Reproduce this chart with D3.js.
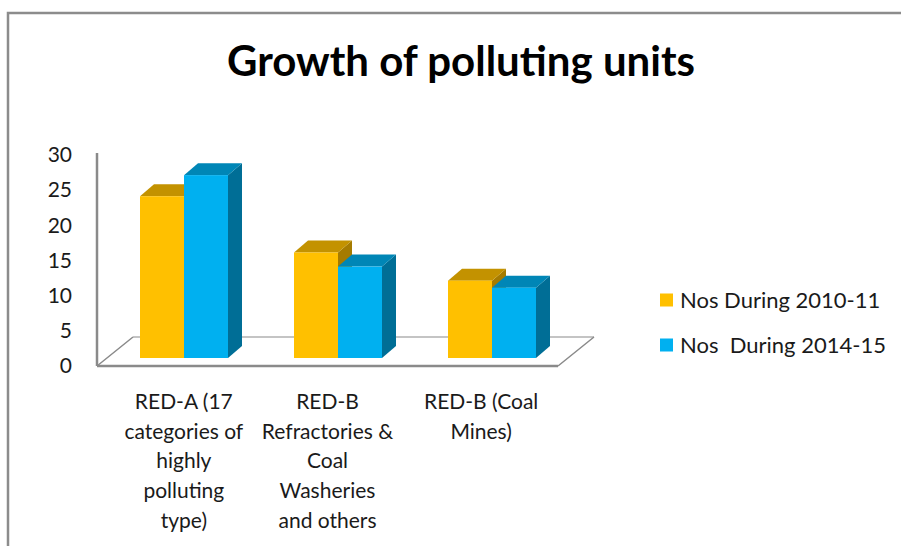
<!DOCTYPE html>
<html>
<head>
<meta charset="utf-8">
<script src="https://cdn.jsdelivr.net/npm/d3@7"></script>
<style>
  body { margin: 0; background: #fff; }
  svg { display: block; font-family: Lato, "Open Sans", sans-serif; }
</style>
</head>
<body>
<div id="chart"></div>
<script>
// Data
const categories = ["RED-A", "RED-B Refractories", "RED-B Coal Mines"];
const categoryLines = [
  ["RED-A (17", "categories of", "highly", "polluting", "type)"],
  ["RED-B", "Refractories &", "Coal", "Washeries", "and others"],
  ["RED-B (Coal", "Mines)"]
];
const seriesNames = ["Nos During 2010-11", "Nos  During 2014-15"];
const values2010 = [23, 15, 11];
const values2014 = [26, 13, 10];
const yTicks = [0, 5, 10, 15, 20, 25, 30];

const colors = [
  { front: "#FFC000", top: "#C39200", side: "#A57B00" },
  { front: "#00B0F0", top: "#0086B6", side: "#006E96" }
];

const width = 901, height = 546;
const svg = d3.select("#chart").append("svg")
  .attr("width", width).attr("height", height);

// outer frame
svg.append("path")
  .attr("d", `M8,${height} L8,13 L${width},13`)
  .attr("fill", "none").attr("stroke", "#8c8c8c").attr("stroke-width", 2.5);

// Title
svg.append("text")
  .attr("x", 461).attr("y", 76)
  .attr("text-anchor", "middle")
  .attr("font-size", 42).attr("font-weight", "bold")
  .attr("fill", "#000")
  .text("Growth of polluting units");

// Scales
const floorX = d3.scaleBand().domain(categories).range([97, 558]);
const barX = d3.scaleBand().domain(categories).range([107, 569]);
const inner = d3.scaleBand().domain([0, 1]).range([-44, 44]);
const yAxisScale = d3.scaleLinear().domain([0, 30]).range([366, 155]);
const yBar = d3.scaleLinear().domain([0, 30]).range([358, 147]);
const depth = { dx: 36, dy: -29 };
const barDepth = { dx: 14, dy: -12 };

// floor
const fx0 = floorX.range()[0], fx1 = floorX.range()[1], fy = yAxisScale(0);
svg.append("path")
  .attr("d", `M${fx0},${fy} L${fx0 + depth.dx},${fy + depth.dy} L${fx1 + depth.dx},${fy + depth.dy} L${fx1},${fy} Z`)
  .attr("fill", "#fff").attr("stroke", "none");
svg.append("line")
  .attr("x1", fx0 + depth.dx).attr("x2", fx1 + depth.dx)
  .attr("y1", fy + depth.dy).attr("y2", fy + depth.dy)
  .attr("stroke", "#c4c4c4").attr("stroke-width", 2);
svg.append("path")
  .attr("d", `M${fx0},${fy} L${fx0 + depth.dx},${fy + depth.dy} M${fx1},${fy} L${fx1 + depth.dx},${fy + depth.dy}`)
  .attr("fill", "none").attr("stroke", "#8a8a8a").attr("stroke-width", 1.5);
svg.append("line")
  .attr("x1", fx0).attr("x2", fx1).attr("y1", fy).attr("y2", fy)
  .attr("stroke", "#8a8a8a").attr("stroke-width", 2.5);

// vertical axis line
svg.append("line")
  .attr("x1", fx0).attr("x2", fx0)
  .attr("y1", yAxisScale(30) - 2).attr("y2", fy)
  .attr("stroke", "#8a8a8a").attr("stroke-width", 2.5);

// Y axis labels
const yAxis = svg.append("g")
  .attr("transform", "translate(72,0)")
  .call(d3.axisLeft(yAxisScale).tickValues(yTicks).tickSize(0).tickPadding(0));
yAxis.select(".domain").remove();
yAxis.selectAll("text")
  .attr("font-family", "Lato, 'Open Sans', sans-serif")
  .attr("font-size", 21).attr("fill", "#1a1a1a");

// Bars
const series = [values2010, values2014];
categories.forEach((c, i) => {
  series.forEach((vals, s) => {
    const x0 = barX(c) + barX.bandwidth() / 2 + inner(s);
    const w = inner.bandwidth();
    const yT = yBar(vals[i]), yB = yBar(0);
    const g = svg.append("g");
    // side
    g.append("path")
      .attr("d", `M${x0 + w},${yT} L${x0 + w + barDepth.dx},${yT + barDepth.dy} L${x0 + w + barDepth.dx},${yB + barDepth.dy} L${x0 + w},${yB} Z`)
      .attr("fill", colors[s].side);
    // top
    g.append("path")
      .attr("d", `M${x0},${yT} L${x0 + barDepth.dx},${yT + barDepth.dy} L${x0 + w + barDepth.dx},${yT + barDepth.dy} L${x0 + w},${yT} Z`)
      .attr("fill", colors[s].top);
    // front
    g.append("rect")
      .attr("x", x0).attr("y", yT)
      .attr("width", w).attr("height", yB - yT)
      .attr("fill", colors[s].front);
  });
});

// Category labels
categories.forEach((c, i) => {
  const t = svg.append("text")
    .attr("text-anchor", "middle")
    .attr("font-size", 21).attr("fill", "#1a1a1a");
  categoryLines[i].forEach((line, k) => {
    t.append("tspan")
      .attr("x", floorX(c) + floorX.bandwidth() / 2 + (i === 0 ? 10 : 0))
      .attr("y", 409 + k * 29.7)
      .text(line);
  });
});

// Legend
const legend = svg.append("g").attr("transform", "translate(660,300)");
seriesNames.forEach((name, s) => {
  const row = legend.append("g").attr("transform", `translate(0,${s * 45})`);
  row.append("rect").attr("x", 0).attr("y", -6.5).attr("width", 13).attr("height", 13)
    .attr("fill", colors[s].front);
  row.append("text").attr("x", 20).attr("y", 8)
    .attr("font-size", 22).attr("fill", "#1a1a1a")
    .attr("xml:space", "preserve")
    .style("white-space", "pre")
    .text(name);
});
</script>
</body>
</html>
